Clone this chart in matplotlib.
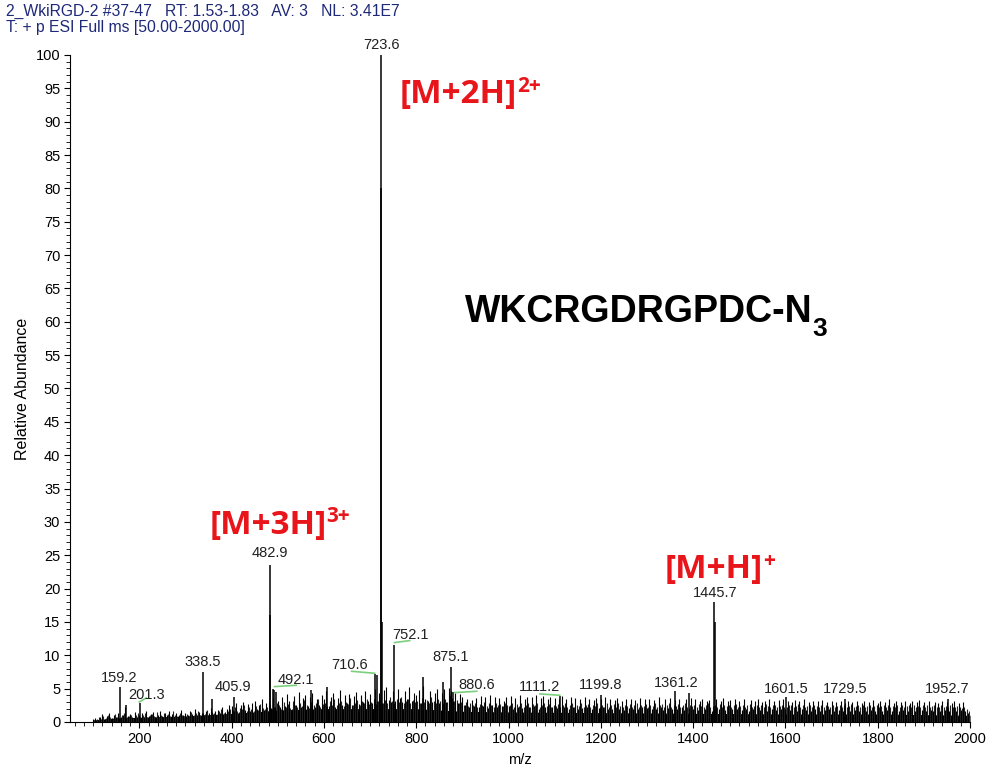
import numpy as np
import matplotlib
matplotlib.use("Agg")
import matplotlib.pyplot as plt
from matplotlib.ticker import MultipleLocator

plt.rcParams['font.family'] = ['Liberation Sans', 'DejaVu Sans']

# labelled / prominent peaks (m/z, relative abundance)
peak_mz = [159.2, 172.0, 201.3, 338.5, 358.0, 405.9, 482.9, 483.4, 490.0, 492.1, 497.0,
           571.0, 606.0, 710.6, 714.6, 723.6, 724.1, 725.1, 752.1, 814.0, 857.0, 875.1,
           880.6, 1111.2, 1199.8, 1361.2, 1390.0, 1445.7, 1446.7, 1601.5, 1729.5, 1952.7]
peak_int = [5.3, 2.6, 2.8, 7.5, 3.4, 3.7, 23.5, 16.0, 5.0, 4.8, 4.5,
            4.8, 5.2, 7.2, 7.0, 100.0, 80.0, 15.0, 11.5, 6.7, 6.0, 8.3,
            4.5, 3.9, 4.1, 4.6, 4.3, 18.0, 15.0, 3.7, 3.4, 3.4]

# background sticks, one every 5 m/z from 100 to 1995
noise_start, noise_step = 100, 5
noise_int = [
    0.4, 0.6, 0.3, 0.8, 1.2, 0.5, 0.9, 1.3, 0.6, 1.0, 0.7, 1.4, 0.8, 1.1, 2.2, 0.9, 1.2, 0.7, 1.5, 0.8,
    1.0, 1.3, 0.7, 1.6, 0.9, 1.2, 1.5, 0.8, 1.1, 1.7, 0.9, 1.3, 1.0, 1.6, 1.2, 0.8, 1.4, 1.1, 1.8, 1.0,
    1.3, 1.0, 1.6, 1.2, 1.9, 1.1, 1.5, 1.3, 1.0, 1.7, 1.4, 2.1, 1.2, 1.6, 1.8, 1.3, 2.2, 1.5, 1.9, 2.6,
    2.4, 1.6, 2.8, 1.5, 2.5, 3.0, 1.8, 2.7, 1.6, 2.9, 3.2, 2.0, 2.6, 3.4, 1.8, 2.8, 3.0, 2.1, 3.6, 2.3,
    3.2, 2.2, 3.8, 2.4, 4.2, 3.1, 2.0, 3.9, 2.6, 4.5, 2.2, 3.6, 4.1, 2.4, 3.7, 4.4, 2.3, 3.5, 2.6, 4.0,
    3.4, 4.6, 2.4, 3.8, 4.3, 2.3, 3.6, 4.8, 2.6, 4.0, 2.8, 4.2, 2.5, 3.9, 4.5, 2.7, 4.1, 3.0, 4.6, 3.1,
    4.2, 2.9, 4.9, 3.2, 4.4, 2.8, 4.8, 5.2, 3.3, 3.0, 4.6, 3.2, 5.0, 3.6, 3.0, 4.7, 3.4, 5.3, 3.1, 4.4,
    4.0, 4.8, 2.9, 5.4, 3.5, 3.1, 4.6, 3.0, 4.4, 5.0, 2.9, 4.3, 4.9, 3.0, 5.1, 4.6, 3.1, 4.4, 2.8, 4.2,
    3.8, 2.6, 3.5, 2.2, 3.3, 2.4, 3.6, 2.2, 3.9, 2.4, 3.7, 2.1, 4.0, 2.5, 3.8, 2.3, 3.6, 2.4, 3.2, 3.7,
    2.4, 3.9, 2.0, 3.6, 2.3, 4.0, 2.1, 3.5, 3.8, 2.2, 3.7, 2.4, 4.1, 2.0, 3.6, 3.9, 2.3, 3.5, 3.8, 2.2,
    3.6, 2.1, 3.4, 3.9, 2.2, 3.5, 2.0, 3.7, 2.3, 3.6, 1.9, 3.4, 2.1, 3.8, 2.2, 3.5, 2.0, 3.3, 3.6, 2.1,
    3.5, 2.2, 3.7, 2.0, 3.4, 1.9, 3.3, 3.6, 2.0, 3.2, 1.8, 3.5, 2.1, 3.4, 1.9, 3.3, 2.0, 3.6, 2.2, 3.4,
    2.1, 3.5, 1.9, 3.3, 2.0, 3.7, 2.2, 1.8, 3.4, 2.1, 3.6, 1.9, 3.3, 2.0, 3.5, 2.2, 1.8, 3.4, 2.1, 3.6,
    2.0, 3.4, 1.8, 3.2, 3.5, 1.9, 3.1, 3.3, 1.7, 2.0, 3.4, 1.9, 3.2, 3.6, 1.8, 3.1, 3.3, 1.9, 3.5, 2.0,
    3.2, 1.8, 3.4, 2.0, 1.7, 3.3, 1.9, 3.1, 3.5, 1.8, 3.0, 3.2, 1.7, 3.4, 1.9, 3.1, 1.8, 3.3, 2.0, 3.5,
    1.9, 3.2, 1.8, 3.0, 3.3, 1.7, 3.1, 1.9, 3.4, 1.8, 3.0, 1.6, 3.2, 1.9, 3.1, 1.7, 3.3, 1.8, 3.0, 1.9,
    3.1, 1.7, 3.0, 1.8, 3.2, 1.6, 2.9, 3.1, 1.7, 3.0, 1.8, 3.2, 1.6, 2.9, 3.1, 1.7, 3.0, 1.8, 3.3, 1.7,
    2.9, 3.1, 1.7, 3.0, 1.8, 3.4, 1.6, 2.9, 3.1, 1.7, 3.0, 1.8, 3.2, 1.6, 2.9, 3.1, 1.7, 3.0, 3.3, 1.8,
    3.0, 1.7, 3.1, 1.8, 1.6, 3.0, 2.9, 1.7, 3.2, 1.8, 3.0, 1.6, 2.9, 3.1, 1.7, 2.9, 1.8, 3.0, 1.6, 1.4,
]
noise_mz = noise_start + noise_step * np.arange(len(noise_int))

# second, in-between set of smaller sticks (offset 2.5 m/z)
noise2_int = [
    0.3, 0.5, 0.8, 0.4, 0.9, 0.6, 1.1, 0.7, 0.5, 1.2, 0.8, 0.6, 1.0, 1.3, 0.7, 0.9, 1.1, 0.6, 1.0, 1.4,
    0.8, 1.1, 1.4, 0.7, 1.0, 1.2, 0.9, 1.5, 0.8, 1.1, 1.3, 0.7, 1.2, 0.9, 1.6, 1.0, 0.8, 1.3, 1.1, 0.9,
    1.2, 0.9, 1.5, 1.1, 1.3, 1.7, 1.0, 1.4, 1.2, 1.8, 1.1, 1.5, 1.3, 1.0, 1.6, 1.9, 1.4, 1.2, 1.7, 2.0,
    1.8, 2.3, 1.6, 2.1, 1.9, 2.5, 1.7, 2.2, 2.0, 1.6, 2.4, 1.8, 2.7, 2.1, 1.9, 2.3, 2.6, 2.0, 2.2, 2.9,
    2.6, 2.0, 3.0, 2.3, 2.7, 2.1, 3.2, 2.5, 2.2, 2.9, 2.4, 3.3, 2.6, 2.1, 3.0, 2.5, 2.8, 3.4, 2.3, 2.7,
    2.9, 2.4, 3.1, 2.6, 3.5, 2.5, 2.8, 3.2, 2.4, 3.0, 2.7, 3.6, 2.5, 2.9, 3.3, 2.6, 3.1, 2.8, 3.4, 2.7,
    3.0, 3.5, 2.7, 3.2, 3.6, 2.9, 3.3, 2.8, 3.7, 3.1, 2.9, 3.4, 3.0, 3.8, 2.8, 3.2, 3.5, 2.9, 3.3, 3.0,
    3.2, 2.8, 3.6, 3.0, 3.3, 2.9, 3.7, 3.1, 2.8, 3.4, 3.2, 2.9, 3.5, 3.0, 4.0, 3.6, 3.1, 3.3, 2.9, 3.0,
    2.6, 3.0, 2.4, 2.8, 2.5, 2.9, 2.3, 2.7, 2.5, 3.0, 2.4, 2.8, 2.6, 2.3, 2.9, 2.5, 2.7, 2.4, 2.8, 2.5,
    2.5, 2.8, 2.3, 2.7, 2.4, 2.9, 2.2, 2.6, 2.8, 2.3, 2.7, 2.5, 2.9, 2.2, 2.6, 2.8, 2.4, 2.7, 2.3, 2.6,
    2.4, 2.7, 2.2, 2.6, 2.9, 2.3, 2.5, 2.8, 2.2, 2.6, 2.4, 2.9, 2.3, 2.5, 2.7, 2.2, 2.6, 2.4, 2.8, 2.3,
    2.6, 2.3, 2.8, 2.2, 2.5, 2.7, 2.3, 2.9, 2.4, 2.2, 2.6, 2.4, 2.7, 2.2, 2.5, 2.8, 2.3, 2.6, 2.4, 2.7,
    2.3, 2.6, 2.4, 2.8, 2.2, 2.5, 2.7, 2.3, 2.6, 2.9, 2.2, 2.5, 2.4, 2.7, 2.3, 2.6, 2.8, 2.2, 2.5, 2.4,
    2.5, 2.2, 2.7, 2.4, 2.3, 2.6, 2.8, 2.2, 2.4, 2.6, 2.3, 2.7, 2.2, 2.5, 2.4, 2.6, 2.3, 2.5, 2.7, 2.2,
    2.4, 2.6, 2.2, 2.5, 2.7, 2.3, 2.4, 2.6, 2.2, 2.5, 2.3, 2.7, 2.4, 2.2, 2.6, 2.5, 2.3, 2.4, 2.6, 2.2,
    2.3, 2.5, 2.6, 2.2, 2.4, 2.7, 2.3, 2.5, 2.2, 2.4, 2.6, 2.3, 2.5, 2.4, 2.2, 2.6, 2.3, 2.5, 2.4, 2.3,
    2.5, 2.2, 2.4, 2.6, 2.3, 2.5, 2.2, 2.4, 2.7, 2.3, 2.4, 2.5, 2.2, 2.6, 2.3, 2.4, 2.5, 2.2, 2.4, 2.6,
    2.2, 2.4, 2.6, 2.3, 2.5, 2.2, 2.4, 2.3, 2.6, 2.2, 2.5, 2.3, 2.4, 2.6, 2.2, 2.5, 2.3, 2.4, 2.2, 2.5,
    2.3, 2.5, 2.2, 2.4, 2.6, 2.3, 2.2, 2.5, 2.3, 2.4, 2.2, 2.5, 2.3, 2.2, 2.4, 2.3, 2.1, 2.2, 1.9, 1.6,
]
noise2_mz = noise_mz + 2.5

# dense floor of the spectrum (m/z, height)
floor_mz = [100, 150, 200, 300, 380, 450, 500, 600, 700, 800, 900, 1000, 1200, 1400, 1600, 1800, 2000]
floor_h = [0.3, 0.6, 0.7, 0.9, 1.2, 1.5, 1.8, 2.0, 2.0, 2.0, 1.6, 1.5, 1.4, 1.3, 1.2, 1.2, 1.0]

# peak labels: (text, x, y)
label_text = ['723.6', '482.9', '1445.7', '752.1', '338.5', '159.2', '201.3', '405.9', '492.1',
              '710.6', '875.1', '880.6', '1111.2', '1199.8', '1361.2', '1601.5', '1729.5', '1952.7']
label_x = [725, 482, 1447, 788, 337, 157, 215, 402, 540, 655, 875, 931, 1068, 1200, 1363, 1601, 1729, 1950]
label_y = [101.5, 25.3, 19.3, 13.0, 9.0, 6.6, 4.0, 5.2, 6.3, 8.5, 9.7, 5.5, 5.2, 5.6, 5.8, 4.9, 4.9, 4.9]

# green leader lines
leader_x0 = [200, 493, 660, 753, 883, 1068]
leader_x1 = [215, 540, 710, 786, 931, 1111]
leader_y0 = [3.0, 5.3, 7.6, 11.9, 4.4, 4.2]
leader_y1 = [3.6, 5.5, 7.3, 12.2, 4.6, 4.0]

# ion annotations
ion_text = ['[M+2H]', '[M+3H]', '[M+H]']
ion_charge = ['2+', '3+', '+']
ion_x = [764, 352, 1339]
ion_y = [94.0, 29.5, 22.8]

fig = plt.figure(figsize=(9.92, 7.71), dpi=100)
ax = fig.add_axes([0.0706, 0.0636, 0.9073, 0.8651])

ax.fill_between(floor_mz, 0, floor_h, color='black', lw=0)
ax.vlines(noise2_mz, 0, noise2_int, color='#222222', lw=0.8)
ax.vlines(noise_mz, 0, noise_int, color='black', lw=0.8)
ax.vlines(peak_mz, 0, peak_int, color='black', lw=1.1)

for t, x, y in zip(label_text, label_x, label_y):
    ax.text(x, y, t, ha='center', va='center', fontsize=10.5, color='#202020')
for x0, x1, y0, y1 in zip(leader_x0, leader_x1, leader_y0, leader_y1):
    ax.plot([x0, x1], [y0, y1], color='#7ccf7c', lw=1.2)

red = '#e8151b'
for t, q, x, y in zip(ion_text, ion_charge, ion_x, ion_y):
    main = ax.text(x, y, t, color=red, fontsize=24, fontweight='bold',
                   family='Open Sans', ha='left', va='center')
    ax.annotate(q, xy=(1, 1), xycoords=main, xytext=(0, 2), textcoords='offset points',
                color=red, fontsize=15, fontweight='bold', family='Open Sans',
                ha='left', va='top')

pep = ax.text(905, 61.5, 'WKCRGDRGPDC-N', color='black', fontsize=27, fontweight='bold',
              family='Liberation Sans', ha='left', va='center')
ax.annotate('3', xy=(1, 0), xycoords=pep, xytext=(0, 9), textcoords='offset points',
            color='black', fontsize=19, fontweight='bold', family='Liberation Sans',
            ha='left', va='top')

ax.set_xlim(50, 2000)
ax.set_ylim(0, 100)
ax.spines['top'].set_visible(False)
ax.spines['right'].set_visible(False)
ax.xaxis.set_minor_locator(MultipleLocator(20))
ax.yaxis.set_major_locator(MultipleLocator(5))
ax.yaxis.set_minor_locator(MultipleLocator(1))
ax.set_xticks(np.arange(200, 2001, 200))
ax.tick_params(which='major', length=4, width=0.8, labelsize=10.5, pad=3)
ax.tick_params(which='minor', length=3, width=0.6)
ax.set_xlabel('m/z', fontsize=10.5, labelpad=5)
ax.set_ylabel('Relative Abundance', fontsize=11.5, labelpad=4)

navy = '#1e2878'
fig.text(0.006, 0.985, '2_WkiRGD-2 #37-47   RT: 1.53-1.83   AV: 3   NL: 3.41E7',
         color=navy, fontsize=11.3, ha='left', va='center')
fig.text(0.006, 0.964, 'T: + p ESI Full ms [50.00-2000.00]',
         color=navy, fontsize=11.3, ha='left', va='center')

fig.savefig('out.png', dpi=100)
